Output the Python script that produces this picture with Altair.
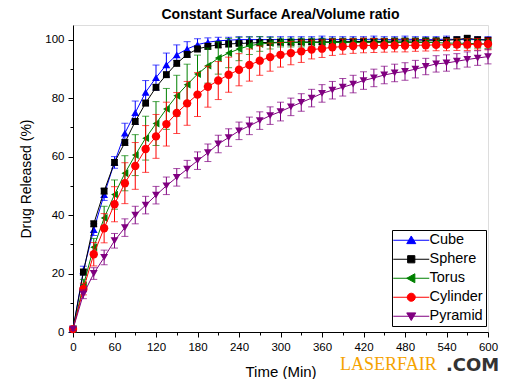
import altair as alt
import pandas as pd

times = [0, 15, 30, 45, 60, 75, 90, 105, 120, 135, 150, 165, 180, 195, 210, 225, 240, 255, 270, 285,
         300, 315, 330, 345, 360, 375, 390, 405, 420, 435, 450, 465, 480, 495, 510, 525, 540, 555, 570, 585, 600]

series_names = ["Cube", "Sphere", "Torus", "Cylinder", "Pyramid"]

cube = [1, 21, 35, 47, 58, 68, 75, 82, 87, 91.4, 94.8, 96.8, 98.3, 99.1, 99.6, 99.8, 100, 100, 100, 100,
        100, 100, 100, 100, 100.2, 100, 100, 100, 100, 100.2, 100, 100, 100.2, 100, 100, 100, 100.2, 100, 100, 100, 100]
sphere = [1, 20.5, 37, 48.2, 58, 64.8, 72, 78.3, 83.7, 88, 91.9, 94.9, 96.8, 97.7, 98.2, 98.5, 98.7, 98.8, 99, 99,
          99.1, 99.1, 99.2, 99.2, 99.2, 99.3, 99.3, 99.3, 99.4, 99.4, 99.4, 99.5, 99.5, 99.5, 99.6, 99.6, 99.8, 100, 100.5, 100, 99.8]
torus = [1, 16, 29, 39, 47, 54.3, 60.5, 66.3, 71.3, 76.3, 80.8, 84.6, 88.2, 91.1, 93.7, 95.4, 96.8, 97.9, 98.5, 98.8,
         99, 99, 99, 99, 99, 99, 99, 99, 99, 99, 99, 99, 99, 99, 99, 99, 98.8, 98.8, 98.7, 98.6, 98.5]
cylinder = [1, 14.7, 26.6, 35.5, 43.7, 50.9, 56.8, 62.6, 66.9, 71.1, 74.9, 78.2, 81.2, 83.9, 86, 88, 89.7, 91.3, 92.8, 94,
            94.8, 95.4, 96, 96.6, 96.9, 97.4, 97.6, 97.8, 98, 98, 98, 98, 98, 98.1, 98.1, 98.2, 98.2, 98.3, 98.3, 98.4, 98.5]
pyramid = [1, 12.9, 20, 25.5, 31.2, 35.7, 40, 43.4, 46.8, 50, 52.9, 55.7, 58.6, 61.3, 64.3, 66.5, 68.8, 70.5, 72.3, 74,
           75.4, 77, 78.5, 80, 81.6, 82.7, 83.7, 84.8, 86, 86.9, 87.9, 88.6, 89.1, 89.9, 90.8, 91.7, 92, 92.6, 93.2, 93.7, 94.2]

cube_err = [0.5, 1.5, 2, 2, 2, 3.4, 4, 4, 4.3, 4, 3.4, 2.5, 2, 1.5, 1.2, 1, 1, 1, 1, 1,
            1, 1, 1, 1, 1, 1, 1, 1, 1, 1, 1, 1, 1, 1, 1, 1, 1, 1, 1, 1, 1]
sphere_err = [0.5, 1, 1, 1, 1, 1, 1, 1, 1, 1, 1, 1, 1, 1, 1, 1, 0.8, 0.8, 0.8, 0.8,
              0.8, 0.8, 0.8, 0.8, 0.8, 0.8, 0.8, 0.8, 0.8, 0.8, 0.8, 0.8, 0.8, 0.8, 0.8, 0.8, 0.8, 0.8, 0.8, 0.8, 0.8]
torus_err = [0.5, 2, 3, 4, 5, 6, 7, 7.5, 7.5, 7, 7, 7, 6.5, 6, 5.5, 5, 4, 3, 2.5, 2,
             1.5, 1.5, 1.5, 1.5, 1.5, 1.5, 1.5, 1.5, 1.5, 1.5, 1.5, 1.5, 1.5, 1.5, 1.5, 1.5, 1.5, 1.5, 1.5, 1.5, 1.5]
cylinder_err = [0.5, 2, 4, 5, 6, 7, 8, 8, 7.5, 7.5, 7, 7.5, 7.5, 7, 6.5, 6, 5.5, 5.5, 5, 4.8,
                4.2, 4, 3.8, 3.2, 3, 2.8, 2.6, 2.5, 2.5, 2.4, 2.3, 2.2, 2.2, 2.1, 2, 2, 2, 2, 2, 2, 2]
pyramid_err = [0.5, 1.5, 2, 2.5, 2.5, 3, 3, 3, 3, 3, 3, 3, 3, 3, 3, 3, 3, 3, 3, 3,
               3.2, 3, 3, 3, 3, 3, 3, 3, 3, 3, 3, 3, 3, 3, 2.8, 2.8, 2.8, 2.6, 2.6, 2.5, 2.5]

colors = ["#0000FF", "#000000", "#008000", "#FF0000", "#800080"]
shapes = ["triangle-up", "square", "triangle-left", "circle", "triangle-down"]
sizes = [62, 45, 62, 70, 62]
legend_paths = [
    "M-4,0H4M0,-0.95L1,0.75L-1,0.75Z",
    "M-4,0H4M-0.8,-0.8H0.8V0.8H-0.8Z",
    "M-4,0H4M-1,0L0.8,-1L0.8,1Z",
    "M-4,0H4M-0.9,0A0.9,0.9,0,1,0,0.9,0A0.9,0.9,0,1,0,-0.9,0Z",
    "M-4,0H4M0,0.95L1,-0.75L-1,-0.75Z",
]

x_ticks = [0, 30, 60, 90, 120, 150, 180, 210, 240, 270, 300, 330, 360, 390, 420, 450, 480, 510, 540, 570, 600]
y_ticks = [0, 10, 20, 30, 40, 50, 60, 70, 80, 90, 100]

title_text = "Constant Surface Area/Volume ratio"
x_title = "Time (Min)"
y_title = "Drug Released (%)"
watermark_a = ["LASERFAIR"]
watermark_b = [".COM"]

values = [cube, sphere, torus, cylinder, pyramid]
errors = [cube_err, sphere_err, torus_err, cylinder_err, pyramid_err]

rows = []
for name, vals, errs in zip(series_names, values, errors):
    for t, v, e in zip(times, vals, errs):
        rows.append({"series": name, "t": t, "v": v, "lo": v - e, "hi": v + e})
df = pd.DataFrame(rows)

FONT = "Liberation Sans"

x_axis = alt.Axis(
    values=x_ticks,
    labelExpr="datum.value % 60 === 0 ? datum.label : ''",
    tickSize={"condition": {"test": "datum.value % 60 === 0", "value": 5}, "value": 3},
    grid=False, domainColor="black", tickColor="black", labelColor="black",
    labelFont=FONT, labelFontSize=11.5, titleFont=FONT, titleFontSize=15,
    titleFontWeight="normal", titleColor="black", labelPadding=4, titlePadding=12,
    labelFlush=False, labelOverlap=False, domainWidth=1, tickWidth=1,
)
y_axis = alt.Axis(
    values=y_ticks,
    labelExpr="datum.value % 20 === 0 ? datum.label : ''",
    tickSize={"condition": {"test": "datum.value % 20 === 0", "value": 5}, "value": 3},
    grid=False, domainColor="black", tickColor="black", labelColor="black",
    labelFont=FONT, labelFontSize=11.5, titleFont=FONT, titleFontSize=14,
    titleFontWeight="normal", titleColor="black", labelPadding=4, titlePadding=11,
    labelFlush=False, labelOverlap=False, domainWidth=1, tickWidth=1,
)


def X(field):
    return alt.X(f"{field}:Q", scale=alt.Scale(domain=[0, 600], nice=False, zero=False), axis=x_axis, title=x_title)


def Y(field):
    return alt.Y(f"{field}:Q", scale=alt.Scale(domain=[0, 105], nice=False, zero=False), axis=y_axis, title=y_title)


layers = []
for name, c, s, sz in zip(series_names, colors, shapes, sizes):
    base = alt.Chart(df).transform_filter(alt.datum.series == name)
    layers.append(base.mark_rule(color=c, strokeWidth=1).encode(x=X("t"), y=Y("lo"), y2="hi"))
    layers.append(base.mark_tick(color=c, orient="horizontal", size=7, thickness=1).encode(x=X("t"), y=Y("lo")))
    layers.append(base.mark_tick(color=c, orient="horizontal", size=7, thickness=1).encode(x=X("t"), y=Y("hi")))
    layers.append(base.mark_line(color=c, strokeWidth=1).encode(x=X("t"), y=Y("v")))
    layers.append(base.mark_point(shape=s, filled=True, size=sz, color=c, opacity=1).encode(x=X("t"), y=Y("v")))

leg = alt.Legend(
    orient="none", legendX=319, legendY=205, title=None,
    padding=3, rowPadding=4, symbolOffset=9, labelOffset=11,
    labelFont=FONT, labelFontSize=14.5, labelColor="black",
    strokeColor="black", fillColor="white", cornerRadius=0,
    symbolSize=81, symbolStrokeWidth=1, symbolOpacity=1,
)
dummy = alt.Chart(df).mark_point(opacity=0, filled=True).encode(
    x=X("t"), y=Y("v"),
    fill=alt.Fill("series:N", scale=alt.Scale(domain=series_names, range=colors), legend=leg),
    stroke=alt.Stroke("series:N", scale=alt.Scale(domain=series_names, range=colors), legend=leg),
    shape=alt.Shape("series:N", scale=alt.Scale(domain=series_names, range=legend_paths), legend=leg),
)
layers.append(dummy)

wm1 = alt.Chart(pd.DataFrame({"w": watermark_a})).mark_text(
    font="Liberation Serif", fontSize=18, color="#F5A300", align="left", baseline="alphabetic"
).encode(x=alt.value(267), y=alt.value(344.5), text="w:N")
wm2 = alt.Chart(pd.DataFrame({"w": watermark_b})).mark_text(
    font="DejaVu Sans", fontSize=18, fontWeight="bold", color="#333333", align="left", baseline="alphabetic"
).encode(x=alt.value(373), y=alt.value(345.5), text="w:N")
layers += [wm1, wm2]

chart = alt.layer(*layers).properties(
    width=415, height=307,
    autosize=alt.AutoSizeParams(type="none"),
    padding={"left": 65, "top": 17, "right": 17, "bottom": 47},
    title=alt.TitleParams(title_text, font=FONT, fontSize=14, fontWeight="bold", color="black",
                          anchor="middle", offset=3),
).configure_view(stroke=None).configure(background="white")

chart.save("out.html", embed_options={"renderer": "svg", "actions": False})
